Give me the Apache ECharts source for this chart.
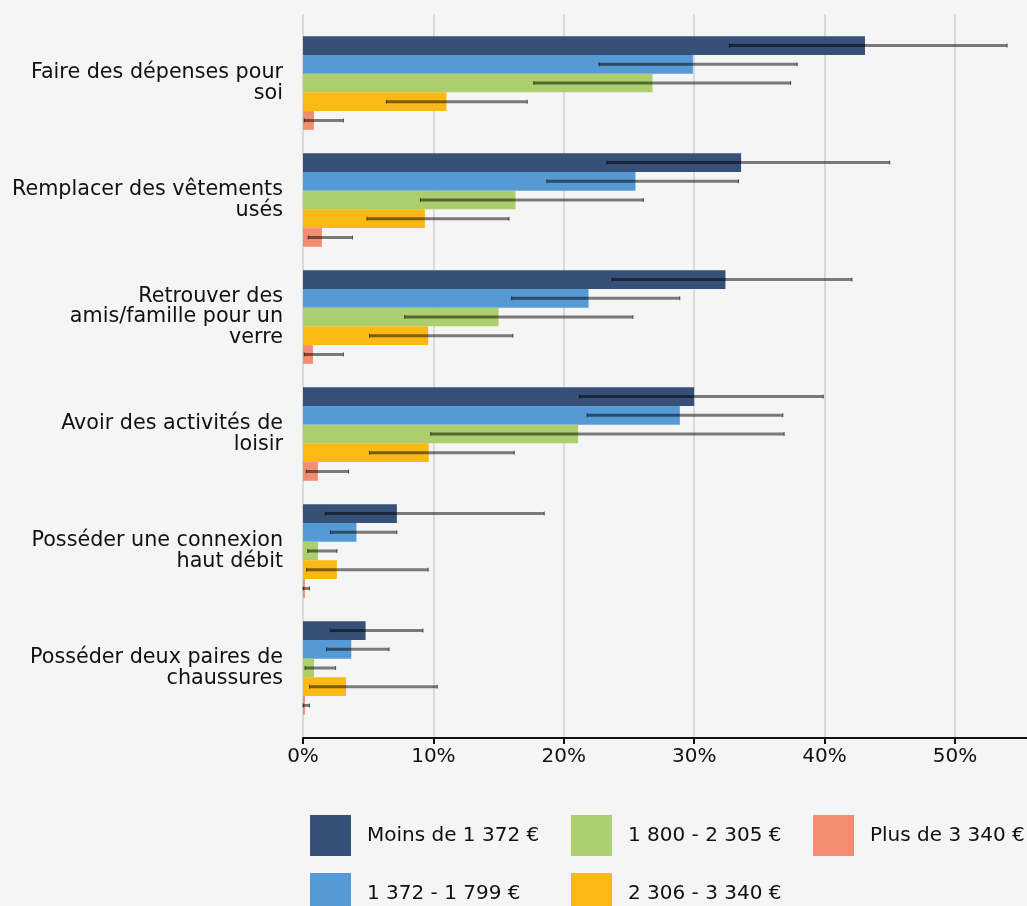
<!DOCTYPE html>
<html>
<head>
<meta charset="utf-8">
<script src="https://cdn.jsdelivr.net/npm/echarts@6/dist/echarts.min.js"></script>
<style>
html,body{margin:0;padding:0;background:#f5f5f5;overflow:hidden;}
#chart{width:1060px;height:906px;}
</style>
</head>
<body>
<div id="chart"></div>
<script>
const categories = [
  "Faire des dépenses pour\nsoi",
  "Remplacer des vêtements\nusés",
  "Retrouver des\namis/famille pour un\nverre",
  "Avoir des activités de\nloisir",
  "Posséder une connexion\nhaut débit",
  "Posséder deux paires de\nchaussures"
];
const seriesNames = ["Moins de 1 372 €", "1 372 - 1 799 €", "1 800 - 2 305 €", "2 306 - 3 340 €", "Plus de 3 340 €"];
const xTicks = [0, 10, 20, 30, 40, 50];

const moins1372 = [43.1, 33.6, 32.4, 30.0, 7.2, 4.8];
const moins1372Lo = [32.7, 23.3, 23.7, 21.2, 1.7, 2.1];
const moins1372Hi = [54.0, 45.0, 42.1, 39.9, 18.5, 9.2];

const de1372a1799 = [29.9, 25.5, 21.9, 28.9, 4.1, 3.7];
const de1372a1799Lo = [22.7, 18.7, 16.0, 21.8, 2.1, 1.8];
const de1372a1799Hi = [37.9, 33.4, 28.9, 36.8, 7.2, 6.6];

const de1800a2305 = [26.8, 16.3, 15.0, 21.1, 1.15, 0.84];
const de1800a2305Lo = [17.7, 9.0, 7.8, 9.8, 0.36, 0.15];
const de1800a2305Hi = [37.4, 26.1, 25.3, 36.9, 2.6, 2.5];

const de2306a3340 = [11.0, 9.35, 9.6, 9.65, 2.6, 3.3];
const de2306a3340Lo = [6.4, 4.9, 5.1, 5.1, 0.28, 0.5];
const de2306a3340Hi = [17.2, 15.8, 16.1, 16.2, 9.6, 10.3];

const plus3340 = [0.84, 1.45, 0.76, 1.14, 0.15, 0.15];
const plus3340Lo = [0.1, 0.4, 0.1, 0.25, 0, 0];
const plus3340Hi = [3.1, 3.8, 3.1, 3.5, 0.5, 0.5];

const values = [moins1372, de1372a1799, de1800a2305, de2306a3340, plus3340];
const lows = [moins1372Lo, de1372a1799Lo, de1800a2305Lo, de2306a3340Lo, plus3340Lo];
const highs = [moins1372Hi, de1372a1799Hi, de1800a2305Hi, de2306a3340Hi, plus3340Hi];
const colors = ["#365077", "#569ad5", "#adce6d", "#fbb914", "#f28d72"];

const FONT = "DejaVu Sans";
const FS = 20;
const GAP = 0.2;
const NS = seriesNames.length;
const XMAX = 57.06;

const errData = [];
for (let s = 0; s < NS; s++) {
  for (let c = 0; c < categories.length; c++) {
    errData.push([lows[s][c], highs[s][c], c, s]);
  }
}

const chart = echarts.init(document.getElementById('chart'), null, {renderer: 'canvas'});

const legendPos = [[310, 815], [310, 873], [571, 815], [571, 873], [813, 815]];

const option = {
  backgroundColor: '#f5f5f5',
  animation: false,
  textStyle: {fontFamily: FONT},
  grid: [
    {left: 303, width: 744, top: 14, height: 724},
    {left: 303, width: 744, top: 24.5, height: 702}
  ],
  xAxis: [
    {
      gridIndex: 0, type: 'value', min: 0, max: XMAX, interval: 10,
      axisLine: {show: true, lineStyle: {color: '#111', width: 2}},
      axisTick: {show: true, length: 6, lineStyle: {color: '#111', width: 2}},
      axisLabel: {
        fontSize: FS, color: '#111', margin: 9, fontFamily: FONT, showMaxLabel: false,
        formatter: function (v) { return xTicks.indexOf(v) >= 0 ? v + '%' : ''; }
      },
      splitLine: {show: true, lineStyle: {color: '#d9d9d9', width: 2}}
    },
    {gridIndex: 1, type: 'value', min: 0, max: XMAX, show: false, splitLine: {show: false}}
  ],
  yAxis: [
    {gridIndex: 0, type: 'value', show: false, splitLine: {show: false}},
    {
      gridIndex: 1, type: 'category', inverse: true, data: categories,
      axisLine: {show: false}, axisTick: {show: false}, splitLine: {show: false},
      axisLabel: {fontSize: 20.7, lineHeight: 20.5, color: '#111', margin: 20, align: 'right', fontFamily: FONT}
    }
  ],
  legend: seriesNames.map(function (name, i) {
    return {
      data: [name], left: legendPos[i][0], top: legendPos[i][1], padding: 0,
      icon: 'rect', itemWidth: 41, itemHeight: 41, selectedMode: false,
      textStyle: {fontSize: FS, color: '#111', fontFamily: FONT, padding: [0, 0, 0, 11]}
    };
  }),
  series: seriesNames.map(function (name, i) {
    return {
      name: name, type: 'bar', xAxisIndex: 1, yAxisIndex: 1,
      data: values[i], barGap: 0, barCategoryGap: (GAP * 100) + '%',
      itemStyle: {color: colors[i]}, z: 2
    };
  }).concat([{
    type: 'custom', xAxisIndex: 1, yAxisIndex: 1, z: 5,
    encode: {x: [0, 1], y: 2},
    data: errData,
    renderItem: function (params, api) {
      const c = api.value(2), s = api.value(3);
      const a = api.coord([api.value(0), c]);
      const b = api.coord([api.value(1), c]);
      const band = api.size([0, 1])[1];
      const bh = band * (1 - GAP) / NS;
      const y = a[1] - band * (1 - GAP) / 2 + bh * (s + 0.5);
      const st = {stroke: 'rgba(0,0,0,0.5)', lineWidth: 3};
      const cs = {stroke: 'rgba(0,0,0,0.6)', lineWidth: 1};
      return {
        type: 'group',
        children: [
          {type: 'line', shape: {x1: a[0], y1: y, x2: b[0], y2: y}, style: st},
          {type: 'line', shape: {x1: a[0], y1: y - 2, x2: a[0], y2: y + 2}, style: cs},
          {type: 'line', shape: {x1: b[0], y1: y - 2, x2: b[0], y2: y + 2}, style: cs}
        ]
      };
    }
  }])
};
chart.setOption(option);
</script>
</body>
</html>
